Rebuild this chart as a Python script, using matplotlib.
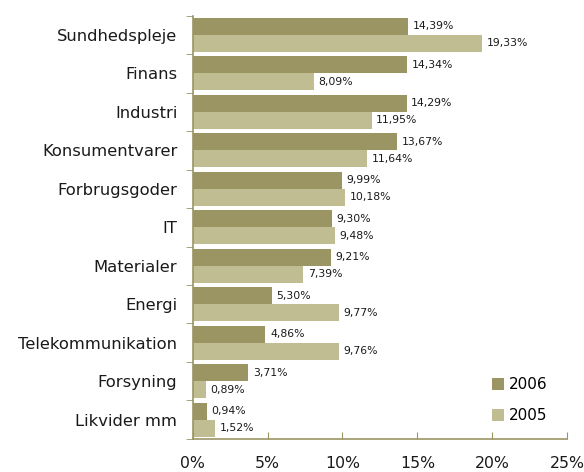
import matplotlib.pyplot as plt
import numpy as np

# Data
categories = ['Sundhedspleje', 'Finans', 'Industri', 'Konsumentvarer', 'Forbrugsgoder',
              'IT', 'Materialer', 'Energi', 'Telekommunikation', 'Forsyning', 'Likvider mm']
values_2006 = [14.39, 14.34, 14.29, 13.67, 9.99, 9.30, 9.21, 5.30, 4.86, 3.71, 0.94]
values_2005 = [19.33, 8.09, 11.95, 11.64, 10.18, 9.48, 7.39, 9.77, 9.76, 0.89, 1.52]
x_ticks = [0, 5, 10, 15, 20, 25]

COLOR_2006 = '#9B9563'
COLOR_2005 = '#C0BD93'
COLOR_AXIS = '#9B9563'
COLOR_TEXT = '#1a1a1a'

fig = plt.figure(figsize=(5.84, 4.72), dpi=100)
ax = fig.add_axes([0.330, 0.070, 0.641, 0.897])

n = len(categories)
y = np.arange(n)[::-1]
h = 0.44

ax.barh(y + h / 2, values_2006, height=h, color=COLOR_2006, label='2006')
ax.barh(y - h / 2, values_2005, height=h, color=COLOR_2005, label='2005')

def fmt(v):
    return f'{v:.2f}%'.replace('.', ',')

# value labels
for yy, v in zip(y + h / 2, values_2006):
    ax.text(v + 0.3, yy, fmt(v), va='center', ha='left', fontsize=7.8, color=COLOR_TEXT)
for yy, v in zip(y - h / 2, values_2005):
    ax.text(v + 0.3, yy, fmt(v), va='center', ha='left', fontsize=7.8, color=COLOR_TEXT)

ax.set_xlim(0, 25)
ax.set_ylim(-0.5, n - 0.5)

ax.set_xticks(x_ticks)
ax.set_xticklabels([f'{t}%' for t in x_ticks], fontsize=11.3, color=COLOR_TEXT)
ax.tick_params(axis='x', direction='in', length=5, color=COLOR_AXIS, pad=12)

ax.set_yticks(y)
ax.set_yticklabels(categories, fontsize=11.8, color=COLOR_TEXT)
ax.tick_params(axis='y', which='major', length=0, pad=11)
ax.set_yticks(np.arange(-0.5, n, 1), minor=True)
ax.tick_params(axis='y', which='minor', direction='out', length=5, color=COLOR_AXIS)

for s in ['top', 'right']:
    ax.spines[s].set_visible(False)
for s in ['left', 'bottom']:
    ax.spines[s].set_color(COLOR_AXIS)
    ax.spines[s].set_linewidth(1.2)

ax.legend(loc='lower right', bbox_to_anchor=(0.985, 0.005), frameon=False, fontsize=11,
          handlelength=0.8, handleheight=0.8, handletextpad=0.3, labelspacing=1.05)

plt.savefig('out.png', dpi=100)
